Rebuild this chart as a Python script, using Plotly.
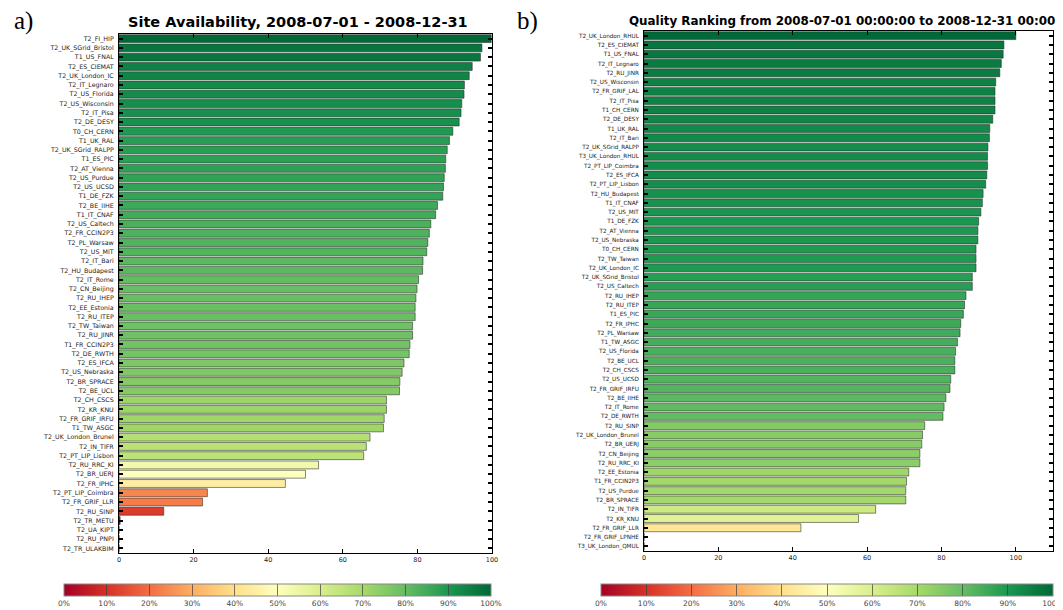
import plotly.graph_objects as go

# ---------------- data ----------------
avail_sites = [
    "T2_FI_HIP", "T2_UK_SGrid_Bristol", "T1_US_FNAL", "T2_ES_CIEMAT", "T2_UK_London_IC",
    "T2_IT_Legnaro", "T2_US_Florida", "T2_US_Wisconsin", "T2_IT_Pisa", "T2_DE_DESY",
    "T0_CH_CERN", "T1_UK_RAL", "T2_UK_SGrid_RALPP", "T1_ES_PIC", "T2_AT_Vienna",
    "T2_US_Purdue", "T2_US_UCSD", "T1_DE_FZK", "T2_BE_IIHE", "T1_IT_CNAF",
    "T2_US_Caltech", "T2_FR_CCIN2P3", "T2_PL_Warsaw", "T2_US_MIT", "T2_IT_Bari",
    "T2_HU_Budapest", "T2_IT_Rome", "T2_CN_Beijing", "T2_RU_IHEP", "T2_EE_Estonia",
    "T2_RU_ITEP", "T2_TW_Taiwan", "T2_RU_JINR", "T1_FR_CCIN2P3", "T2_DE_RWTH",
    "T2_ES_IFCA", "T2_US_Nebraska", "T2_BR_SPRACE", "T2_BE_UCL", "T2_CH_CSCS",
    "T2_KR_KNU", "T2_FR_GRIF_IRFU", "T1_TW_ASGC", "T2_UK_London_Brunel", "T2_IN_TIFR",
    "T2_PT_LIP_Lisbon", "T2_RU_RRC_KI", "T2_BR_UERJ", "T2_FR_IPHC", "T2_PT_LIP_Coimbra",
    "T2_FR_GRIF_LLR", "T2_RU_SINP", "T2_TR_METU", "T2_UA_KIPT", "T2_RU_PNPI",
    "T2_TR_ULAKBIM",
]
avail_values = [
    99.8, 97.3, 96.9, 94.7, 93.9,
    92.6, 92.5, 91.9, 91.7, 91.2,
    89.5, 88.6, 88.0, 87.6, 87.5,
    87.2, 87.0, 86.8, 85.4, 84.9,
    83.6, 83.2, 82.8, 82.5, 81.5,
    81.4, 80.3, 79.9, 79.6, 79.4,
    79.4, 78.7, 78.7, 78.0, 77.8,
    76.4, 75.9, 75.3, 75.2, 71.7,
    71.7, 71.1, 70.9, 67.3, 66.3,
    65.6, 53.5, 50.0, 44.6, 23.7,
    22.4, 12.0, 0.3, 0.0, 0.0,
    0.0,
]

quality_sites = [
    "T2_UK_London_RHUL", "T2_ES_CIEMAT", "T1_US_FNAL", "T2_IT_Legnaro", "T2_RU_JINR",
    "T2_US_Wisconsin", "T2_FR_GRIF_LAL", "T2_IT_Pisa", "T1_CH_CERN", "T2_DE_DESY",
    "T1_UK_RAL", "T2_IT_Bari", "T2_UK_SGrid_RALPP", "T3_UK_London_RHUL", "T2_PT_LIP_Coimbra",
    "T2_ES_IFCA", "T2_PT_LIP_Lisbon", "T2_HU_Budapest", "T1_IT_CNAF", "T2_US_MIT",
    "T1_DE_FZK", "T2_AT_Vienna", "T2_US_Nebraska", "T0_CH_CERN", "T2_TW_Taiwan",
    "T2_UK_London_IC", "T2_UK_SGrid_Bristol", "T2_US_Caltech", "T2_RU_IHEP", "T2_RU_ITEP",
    "T1_ES_PIC", "T2_FR_IPHC", "T2_PL_Warsaw", "T1_TW_ASGC", "T2_US_Florida",
    "T2_BE_UCL", "T2_CH_CSCS", "T2_US_UCSD", "T2_FR_GRIF_IRFU", "T2_BE_IIHE",
    "T2_IT_Rome", "T2_DE_RWTH", "T2_RU_SINP", "T2_UK_London_Brunel", "T2_BR_UERJ",
    "T2_CN_Beijing", "T2_RU_RRC_KI", "T2_EE_Estonia", "T1_FR_CCIN2P3", "T2_US_Purdue",
    "T2_BR_SPRACE", "T2_IN_TIFR", "T2_KR_KNU", "T2_FR_GRIF_LLR", "T2_FR_GRIF_LPNHE",
    "T3_UK_London_QMUL",
]
quality_values = [
    100.0, 96.8, 96.6, 96.1, 95.7,
    94.6, 94.4, 94.4, 94.4, 93.8,
    93.0, 92.9, 92.5, 92.4, 92.4,
    92.2, 91.9, 91.2, 91.0, 90.6,
    90.0, 89.8, 89.8, 89.3, 89.3,
    89.3, 88.3, 88.3, 86.6, 86.2,
    85.9, 85.2, 85.0, 84.3, 83.8,
    83.6, 83.6, 82.5, 82.3, 81.2,
    80.7, 80.4, 75.5, 74.9, 74.7,
    74.2, 74.2, 71.2, 70.6, 70.4,
    70.4, 62.3, 57.7, 42.2, 0.0,
    0.0,
]

axis_ticks = [0, 20, 40, 60, 80, 100]
pct_ticks = [0, 10, 20, 30, 40, 50, 60, 70, 80, 90, 100]
pct_labels = [f"{t}%" for t in pct_ticks]

# ---------------- figure ----------------
OFF = 8  # page body margin in the browser
W, H = 1063 - OFF, 610 - OFF
FONT = "DejaVu Sans"
edge = dict(color="rgba(40,40,40,0.55)", width=1)

fig = go.Figure()
fig.add_trace(go.Bar(
    x=avail_values, y=avail_sites, orientation="h",
    marker=dict(color=avail_values, coloraxis="coloraxis", line=edge),
    xaxis="x", yaxis="y", hoverinfo="x+y",
))
fig.add_trace(go.Bar(
    x=quality_values, y=quality_sites, orientation="h",
    marker=dict(color=quality_values, coloraxis="coloraxis2", line=edge),
    xaxis="x2", yaxis="y2", hoverinfo="x+y",
))


def px_x(p):
    return (p - OFF) / W


def px_y(p):
    return 1 - (p - OFF) / H


def cbar(x0, x1):
    return dict(
        orientation="h",
        x=(px_x(x0) + px_x(x1)) / 2, xanchor="center",
        len=px_x(x1) - px_x(x0), lenmode="fraction",
        y=px_y(584), yanchor="top",
        thickness=12, xpad=0, ypad=0,
        tickvals=pct_ticks, ticktext=pct_labels,
        ticks="inside", ticklen=12, tickwidth=1,
        tickcolor="rgba(60,60,60,0.7)",
        outlinewidth=1, outlinecolor="#888888",
        ticklabeloverflow="allow",
        tickfont=dict(family=FONT, size=7.5, color="#444444"),
    )


common_x = dict(
    tickvals=axis_ticks, ticks="inside", ticklen=4, tickwidth=1,
    tickcolor="black", mirror="allticks", showline=True, linecolor="black",
    linewidth=1, showgrid=False, zeroline=False,
    tickfont=dict(family=FONT, size=6.5, color="#222222"),
)
common_y = dict(
    type="category", autorange="reversed", ticks="inside", ticklen=4,
    tickwidth=1.5, tickcolor="black", mirror="allticks", showline=True,
    linecolor="black", linewidth=1, showgrid=False, zeroline=False,
    ticklabelstandoff=3,
)

fig.update_layout(
    width=W, height=H,
    margin=dict(l=0, r=0, t=0, b=0, autoexpand=False),
    paper_bgcolor="white", plot_bgcolor="white",
    showlegend=False, bargap=0.15,
    font=dict(family=FONT, color="black"),
    xaxis=dict(domain=[px_x(119), px_x(492)], range=[0, 100], anchor="y", **common_x),
    yaxis=dict(domain=[px_y(553), px_y(34)], anchor="x",
               tickfont=dict(family=FONT, size=6.3, color="#222222"), **common_y),
    xaxis2=dict(domain=[px_x(644), px_x(1053)], range=[0, 110], anchor="y2", **common_x),
    yaxis2=dict(domain=[px_y(551), px_y(31)], anchor="x2",
                tickfont=dict(family=FONT, size=5.7, color="#222222"), **common_y),
    coloraxis=dict(colorscale="RdYlGn", cmin=0, cmax=100, colorbar=cbar(64, 491)),
    coloraxis2=dict(colorscale="RdYlGn", cmin=0, cmax=100, colorbar=cbar(601, 1053)),
    annotations=[
        dict(text="<b>Site Availability, 2008-07-01 - 2008-12-31</b>",
             x=px_x(298), y=px_y(22), xref="paper", yref="paper",
             xanchor="center", yanchor="middle", showarrow=False,
             font=dict(family=FONT, size=14.5, color="black")),
        dict(text="<b>Quality Ranking from 2008-07-01 00:00:00 to 2008-12-31 00:00:00</b>",
             x=px_x(627), y=px_y(21), xref="paper", yref="paper",
             xanchor="left", yanchor="middle", showarrow=False,
             font=dict(family=FONT, size=11.9, color="black")),
        dict(text="a)", x=px_x(12), y=px_y(21), xref="paper", yref="paper",
             xanchor="left", yanchor="middle", showarrow=False,
             font=dict(family="Liberation Serif", size=25, color="black")),
        dict(text="b)", x=px_x(515), y=px_y(21), xref="paper", yref="paper",
             xanchor="left", yanchor="middle", showarrow=False,
             font=dict(family="Liberation Serif", size=25, color="black")),
    ],
)

fig.write_html("out.html")
